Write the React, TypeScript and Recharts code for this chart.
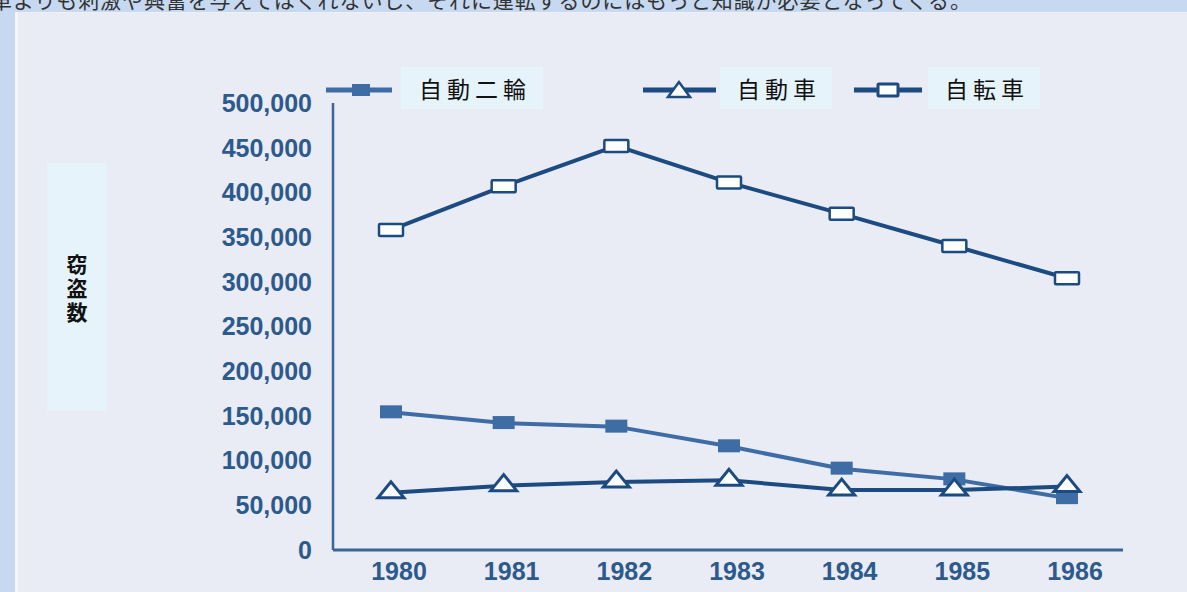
import React from 'react';
import { LineChart, Line, XAxis, YAxis } from 'recharts';

const years = ['1980', '1981', '1982', '1983', '1984', '1985', '1986'];
const motorcycleThefts = [154000, 142000, 138000, 116000, 91000, 79000, 58000];
const carThefts = [64000, 72000, 76000, 78000, 67000, 67000, 71000];
const bicycleThefts = [358000, 407000, 452000, 411000, 376000, 340000, 304000];
const yTicks = [0, 50000, 100000, 150000, 200000, 250000, 300000, 350000, 400000, 450000, 500000];

const MOTO = '#3e6da6';
const NAVY = '#1c4b82';
const TICK = '#2d5a8c';
const AXIS = '#3a6697';

const data = years.map((year, i) => ({
    year,
    motorcycle: motorcycleThefts[i],
    car: carThefts[i],
    bicycle: bicycleThefts[i],
}));

const formatNumber = (v: number) => v.toLocaleString('en-US');

const SquareDot = (props: any) => {
    const { cx, cy, index } = props;
    return <rect key={`m-${index}`} x={cx - 11} y={cy - 7} width={22} height={13} fill={MOTO} />;
};

const TriangleDot = (props: any) => {
    const { cx, cy, index } = props;
    return (
        <polygon
            key={`c-${index}`}
            points={`${cx},${cy - 11} ${cx - 13},${cy + 5} ${cx + 13},${cy + 5}`}
            fill="#fff"
            stroke={NAVY}
            strokeWidth={3}
            strokeLinejoin="miter"
        />
    );
};

const OpenSquareDot = (props: any) => {
    const { cx, cy, index } = props;
    return (
        <rect key={`b-${index}`} x={cx - 12} y={cy - 6} width={24} height={12} rx={1}
            fill="#fff" stroke={NAVY} strokeWidth={2.5} />
    );
};

const labelBox: React.CSSProperties = {
    position: 'absolute',
    top: 67,
    height: 42,
    lineHeight: '42px',
    background: '#e6f3fb',
    fontSize: 23,
    letterSpacing: 5,
    color: '#111',
    fontFamily: '"Noto Sans CJK JP", sans-serif',
    boxSizing: 'border-box',
};

const ChartLegend = () => (
    <>
        <svg style={{ position: 'absolute', left: 326, top: 78 }} width={68} height={24}>
            <line x1={0} y1={12} x2={66} y2={12} stroke={MOTO} strokeWidth={5} />
            <rect x={26} y={6} width={18} height={12} fill={MOTO} />
        </svg>
        <div style={{ ...labelBox, left: 401, width: 142, paddingLeft: 18 }}>自動二輪</div>

        <svg style={{ position: 'absolute', left: 643, top: 78 }} width={74} height={24}>
            <line x1={0} y1={12} x2={73} y2={12} stroke={NAVY} strokeWidth={5} />
            <polygon points="36,4 25,19 47,19" fill="#fff" stroke={NAVY} strokeWidth={2.5} />
        </svg>
        <div style={{ ...labelBox, left: 720, width: 112, paddingLeft: 17 }}>自動車</div>

        <svg style={{ position: 'absolute', left: 854, top: 78 }} width={70} height={24}>
            <line x1={0} y1={12} x2={68} y2={12} stroke={NAVY} strokeWidth={5} />
            <rect x={24} y={6} width={20} height={12} rx={1} fill="#fff" stroke={NAVY} strokeWidth={3} />
        </svg>
        <div style={{ ...labelBox, left: 928, width: 112, paddingLeft: 17 }}>自転車</div>
    </>
);

export default function App() {
    return (
        <div style={{ position: 'absolute', left: 0, top: 0, width: 1187, height: 592, overflow: 'hidden', background: '#c6d9f1' }}>
            <div style={{
                position: 'absolute', left: -9, top: -11, fontSize: 21, lineHeight: '21px', letterSpacing: 0.9,
                whiteSpace: 'nowrap', color: '#333', fontFamily: '"Noto Sans CJK JP", sans-serif'
            }}>
                車よりも刺激や興奮を与えてはくれないし、それに運転するのにはもっと知識が必要となってくる。
            </div>
            <div style={{
                position: 'absolute', left: 15, top: 12, right: 0, bottom: 0, background: '#e9ebf5',
                borderLeft: '3px solid #f6f7fc', borderTop: '1px solid #eef0f8'
            }} />

            <div style={{
                position: 'absolute', left: 47, top: 163, width: 60, height: 248, background: '#e6f3fb',
                display: 'flex', flexDirection: 'column', alignItems: 'center', justifyContent: 'center',
                fontSize: 21, lineHeight: '24px', fontWeight: 700, color: '#111',
                fontFamily: '"Noto Sans CJK JP", sans-serif'
            }}>
                <span>窃</span><span>盗</span><span>数</span>
            </div>

            <ChartLegend />

            <div style={{ position: 'absolute', left: 0, top: 0 }}>
                <LineChart width={1187} height={592} data={data} margin={{ top: 103, right: 64, bottom: 12, left: 0 }}>
                    <XAxis
                        dataKey="year"
                        padding={{ left: 58, right: 56 }}
                        axisLine={{ stroke: AXIS, strokeWidth: 3 }}
                        tickLine={false}
                        tickSize={0}
                        tickMargin={12}
                        height={30}
                        tick={{ fill: TICK, fontSize: 25, fontWeight: 700, fontFamily: '"Liberation Sans", Arial, sans-serif', dx: 8 }}
                    />
                    <YAxis
                        domain={[0, 500000]}
                        ticks={yTicks}
                        interval={0}
                        width={333}
                        axisLine={{ stroke: AXIS, strokeWidth: 2.5 }}
                        tickLine={false}
                        tickSize={0}
                        tickMargin={21}
                        tickFormatter={formatNumber}
                        tick={{ fill: TICK, fontSize: 25, fontWeight: 700, fontFamily: '"Liberation Sans", Arial, sans-serif' }}
                    />
                    <Line type="linear" dataKey="motorcycle" stroke={MOTO} strokeWidth={4} dot={SquareDot} isAnimationActive={false} />
                    <Line type="linear" dataKey="car" stroke={NAVY} strokeWidth={4} dot={TriangleDot} isAnimationActive={false} />
                    <Line type="linear" dataKey="bicycle" stroke={NAVY} strokeWidth={4} dot={OpenSquareDot} isAnimationActive={false} />
                </LineChart>
            </div>
        </div>
    );
}
